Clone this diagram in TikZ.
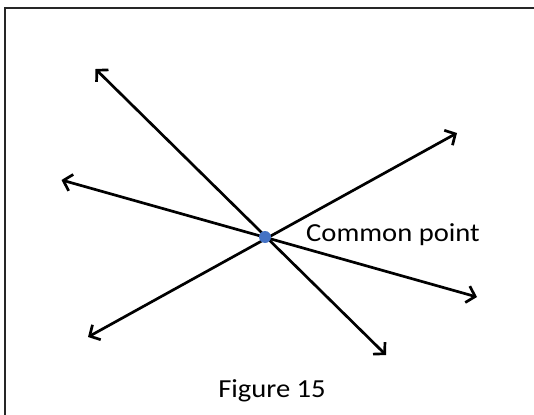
\documentclass[tikz,border=0pt]{standalone}
\usepackage{fontspec}
\setmainfont{Carlito}
\usetikzlibrary{arrows.meta}
\definecolor{dotblue}{HTML}{4472C4}
\begin{document}
\begin{tikzpicture}[x=1pt,y=-1pt,
  ray/.style={line width=2.7pt,{Straight Barb[length=8pt,width=17pt]}-{Straight Barb[length=8pt,width=17pt]}},
  lbl/.style={inner sep=0pt,font=\fontsize{26}{30}\selectfont}]
\useasboundingbox (0,0) rectangle (534,414);
\draw[line width=2.2pt,black!85] (5,8) rectangle (560,440);
\coordinate (c) at (265,237);
\coordinate (a1) at (95.5,69);
\coordinate (a2) at (386,355);
\coordinate (b1) at (61.5,180);
\coordinate (b2) at (477,297);
\coordinate (d1) at (88,337);
\coordinate (d2) at (457,133);
\draw[ray] (a1) -- (a2);
\draw[ray] (b1) -- (b2);
\draw[ray] (d1) -- (d2);
\fill[dotblue] (c) circle (6);
\node[lbl,anchor=base west] (cp) at (306,241) {\scalebox{1.1}[1]{Common point}};
\node[lbl,anchor=base] (fig) at (272,397) {\scalebox{1.1}[1]{Figure 15}};
\end{tikzpicture}
\end{document}
